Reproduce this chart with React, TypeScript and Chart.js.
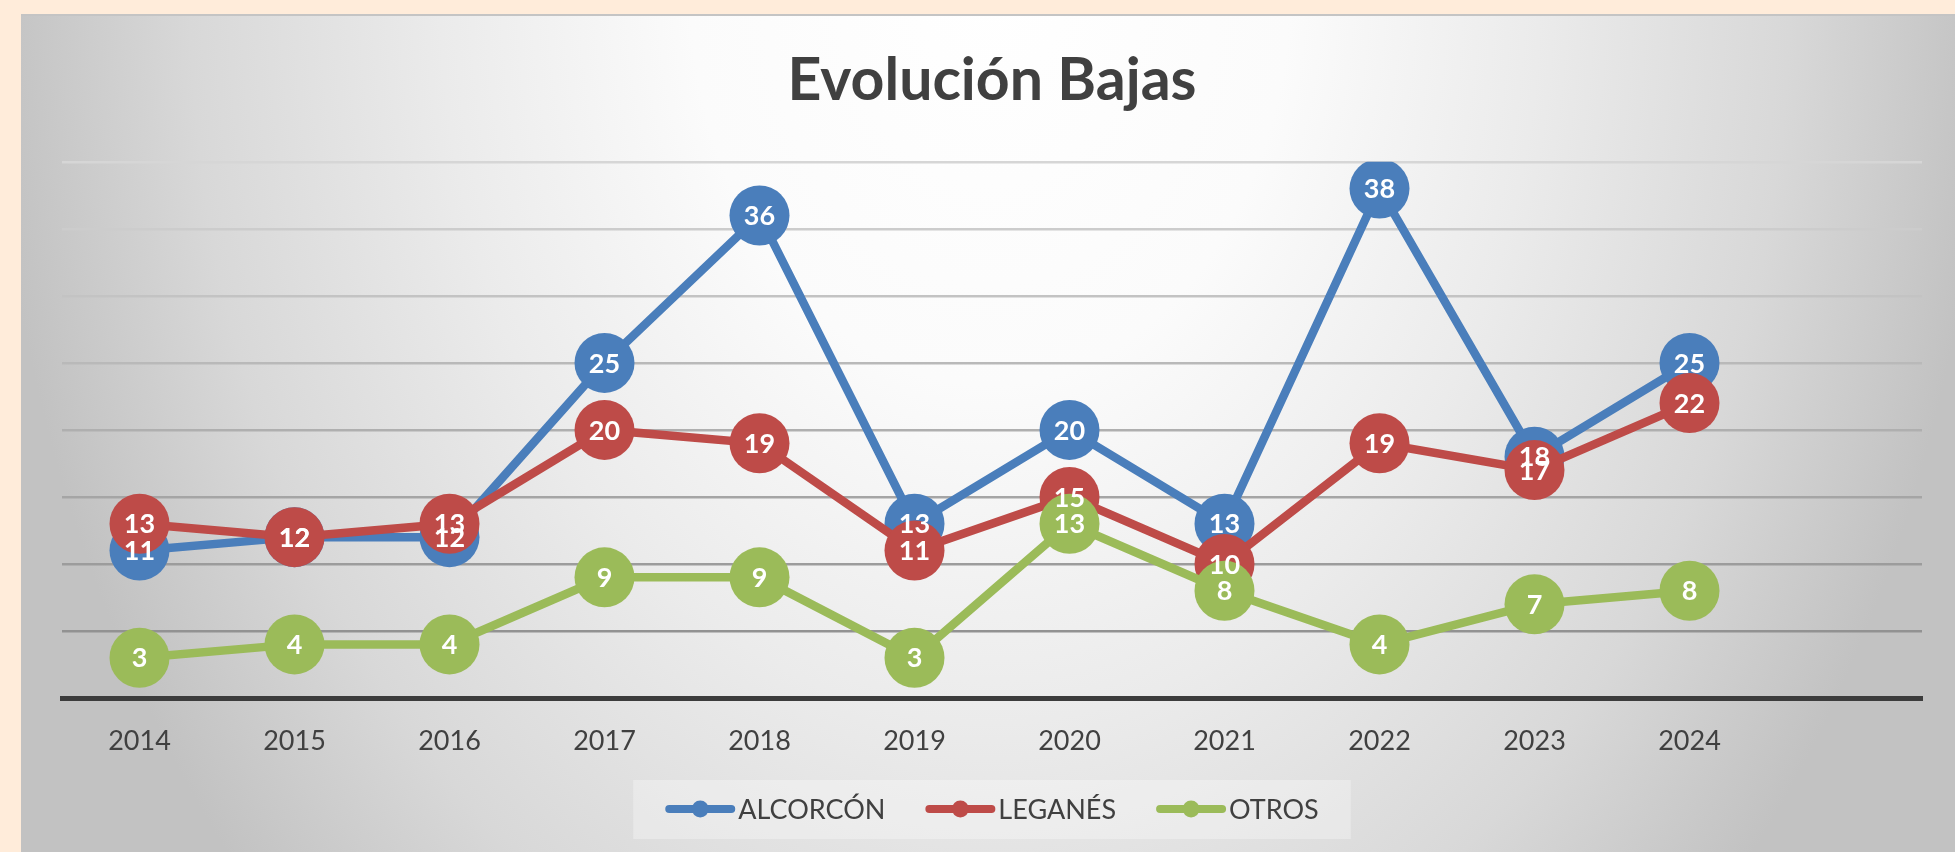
import React, { useEffect, useRef } from 'react';
import { Chart, registerables } from 'chart.js';

Chart.register(...registerables);

// ---- data ----
const categories = ['2014', '2015', '2016', '2017', '2018', '2019', '2020', '2021', '2022', '2023', '2024', ''];
const alcorconValues = [11, 12, 12, 25, 36, 13, 20, 13, 38, 18, 25];
const leganesValues = [13, 12, 13, 20, 19, 11, 15, 10, 19, 17, 22];
const otrosValues = [3, 4, 4, 9, 9, 3, 13, 8, 4, 7, 8];
const seriesNames = ['ALCORCÓN', 'LEGANÉS', 'OTROS'];
const titleText = 'Evolución Bajas';
const yMin = 0;
const yMax = 40;
const yStep = 5;

// ---- styles ----
const W = 1955;
const H = 852;
const FONT = 'Lato, "Open Sans", sans-serif';
const COLORS = ['#4A7EBB', '#BE4B48', '#9BBB59'];
const TEXT = '#404040';

function gridColor(v: number) {
  if (v === 0) return 'rgba(0,0,0,0)';
  const t = v / yMax;
  const c = Math.round(136 + t * (214 - 136));
  return `rgb(${c},${c},${c})`;
}

const backgroundPlugin = {
  id: 'panelBackground',
  beforeDraw(chart: any) {
    const { ctx, width, height } = chart;
    ctx.save();
    ctx.fillStyle = '#FFECDA';
    ctx.fillRect(0, 0, width, height);
    const px = 21;
    const py = 14;
    ctx.beginPath();
    ctx.rect(px, py, width - px, height - py);
    ctx.clip();
    const cx = 990;
    const cy = -20;
    const rx = 1000;
    const ry = 1350;
    ctx.translate(cx, cy);
    ctx.scale(1, ry / rx);
    const g = ctx.createRadialGradient(0, 0, 0, 0, 0, rx);
    g.addColorStop(0, '#ffffff');
    g.addColorStop(0.3, '#fbfbfb');
    g.addColorStop(0.55, '#ebebeb');
    g.addColorStop(0.8, '#d8d8d8');
    g.addColorStop(1, '#c2c2c2');
    ctx.fillStyle = g;
    ctx.fillRect(-cx - 10, -3000, width * 2, 6000);
    ctx.restore();
    ctx.save();
    ctx.strokeStyle = '#c4c4c4';
    ctx.lineWidth = 2;
    ctx.beginPath();
    ctx.moveTo(px, py + 1);
    ctx.lineTo(width, py + 1);
    ctx.stroke();
    ctx.restore();
  },
};

const pointLabelPlugin = {
  id: 'pointLabels',
  afterDatasetsDraw(chart: any) {
    const ctx = chart.ctx;
    ctx.save();
    ctx.font = `bold 27px ${FONT}`;
    ctx.fillStyle = '#ffffff';
    ctx.textAlign = 'center';
    ctx.textBaseline = 'middle';
    chart.data.datasets.forEach((ds: any, i: number) => {
      const meta = chart.getDatasetMeta(i);
      meta.data.forEach((el: any, j: number) => {
        const v = ds.data[j];
        if (v == null) return;
        ctx.fillText(String(v), el.x, el.y + 1);
      });
    });
    ctx.restore();
  },
};

const legendPlugin = {
  id: 'customLegend',
  afterDraw(chart: any) {
    const ctx = chart.ctx;
    ctx.save();
    ctx.font = `27px ${FONT}`;
    const markerW = 70;
    const gapText = 3;
    const gapItem = 40;
    const padX = 32;
    const widths = seriesNames.map((n) => ctx.measureText(n).width);
    const content =
      widths.reduce((a, w) => a + markerW + gapText + w, 0) + gapItem * (seriesNames.length - 1);
    const cx = (chart.chartArea.left + chart.chartArea.right) / 2;
    const cy = chart.height - 43;
    let x = cx - content / 2;
    ctx.fillStyle = 'rgba(255,255,255,0.3)';
    ctx.fillRect(x - padX, cy - 29, content + 2 * padX, 59);
    seriesNames.forEach((name, i) => {
      ctx.strokeStyle = COLORS[i];
      ctx.lineWidth = 8;
      ctx.lineCap = 'round';
      ctx.beginPath();
      ctx.moveTo(x + 4, cy);
      ctx.lineTo(x + markerW - 4, cy);
      ctx.stroke();
      ctx.fillStyle = COLORS[i];
      ctx.beginPath();
      ctx.arc(x + markerW / 2, cy, 8.5, 0, Math.PI * 2);
      ctx.fill();
      ctx.fillStyle = TEXT;
      ctx.textAlign = 'left';
      ctx.textBaseline = 'middle';
      ctx.fillText(name, x + markerW + gapText, cy + 1);
      x += markerW + gapText + widths[i] + gapItem;
    });
    ctx.restore();
  },
};

export default function App() {
  const ref = useRef<HTMLCanvasElement | null>(null);

  useEffect(() => {
    if (!ref.current) return;
    const mk = (label: string, data: number[], i: number, order: number) => ({
      label,
      data,
      borderColor: COLORS[i],
      backgroundColor: COLORS[i],
      pointBackgroundColor: COLORS[i],
      pointBorderColor: COLORS[i],
      pointBorderWidth: 0,
      pointRadius: 30,
      pointHoverRadius: 30,
      borderWidth: 8.5,
      tension: 0,
      order,
    });
    const chart = new Chart(ref.current, {
      type: 'line',
      data: {
        labels: categories,
        datasets: [
          mk(seriesNames[0], alcorconValues, 0, 2),
          mk(seriesNames[1], leganesValues, 1, 1),
          mk(seriesNames[2], otrosValues, 2, 0),
        ],
      },
      options: {
        responsive: false,
        animation: false,
        events: [],
        layout: { padding: { left: 62, right: 33, top: 14, bottom: 0 } },
        plugins: {
          legend: { display: false },
          tooltip: { enabled: false },
          title: {
            display: true,
            text: titleText,
            color: TEXT,
            font: { family: FONT, size: 59, weight: 'bold', lineHeight: 1.2 },
            padding: { top: 32, bottom: 45 },
          },
        },
        scales: {
          x: {
            offset: true,
            grid: { display: false, drawTicks: false },
            border: { display: true, color: '#3c3c3c', width: 5 },
            ticks: {
              color: TEXT,
              font: { family: FONT, size: 27 },
              padding: 27,
              autoSkip: false,
              maxRotation: 0,
            },
            afterFit: (scale: any) => {
              scale.height = 154;
            },
          },
          y: {
            min: yMin,
            max: yMax,
            ticks: { display: false, stepSize: yStep },
            grid: {
              drawTicks: false,
              lineWidth: 2.5,
              color: (c: any) => gridColor(c.tick ? c.tick.value : 0),
            },
            border: { display: false },
            afterFit: (scale: any) => {
              scale.width = 0;
            },
          },
        },
      },
      plugins: [backgroundPlugin, pointLabelPlugin, legendPlugin],
    });
    return () => chart.destroy();
  }, []);

  return (
    <div style={{ position: 'absolute', left: 0, top: 0, width: W, height: H }}>
      <canvas ref={ref} width={W} height={H} style={{ display: 'block', width: W, height: H }} />
    </div>
  );
}
